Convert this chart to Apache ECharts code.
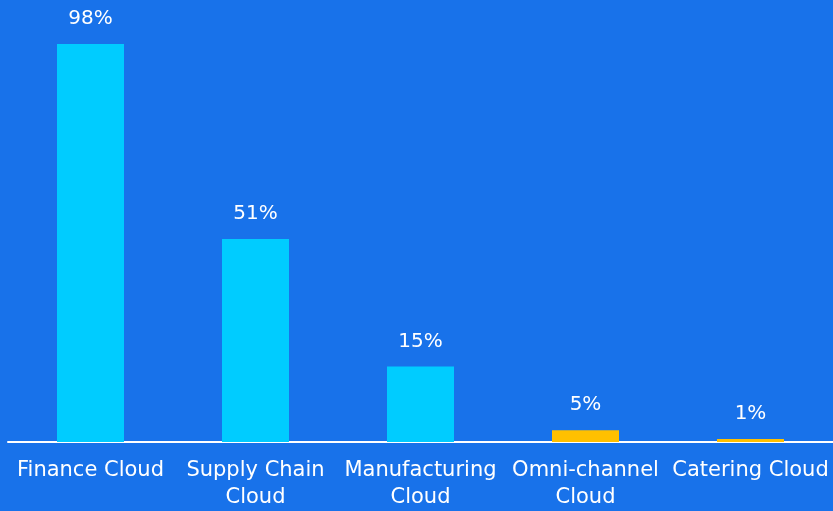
<!DOCTYPE html>
<html><head><meta charset="utf-8">
<script src="https://cdn.jsdelivr.net/npm/echarts@6/dist/echarts.min.js"></script>
<style>html,body{margin:0;padding:0;background:#1872EA;}#c{width:833px;height:511px;}</style>
</head><body><div id="c"></div>
<script>
const categories = ['Finance Cloud', 'Supply Chain\nCloud', 'Manufacturing\nCloud', 'Omni-channel\nCloud', 'Catering Cloud'];
// bar heights (percent)
const values = [98, 50, 18.6, 2.9, 0.75];
// label texts printed above the bars
const labelTexts = ['98%', '51%', '15%', '5%', '1%'];
const barColors = ['#00CCFF', '#00CCFF', '#00CCFF', '#FFC000', '#FFC000'];

const chart = echarts.init(document.getElementById('c'));
chart.setOption({
  backgroundColor: '#1872EA',
  animation: false,
  grid: {left: 8, right: -3, top: 44, bottom: 66},
  xAxis: {
    type: 'category', data: categories,
    axisLine: {lineStyle: {color: '#ffffff', width: 2}},
    axisTick: {show: false},
    axisLabel: {color: '#ffffff', fontSize: 21, fontFamily: 'DejaVu Sans', lineHeight: 27, margin: 15, interval: 0}
  },
  yAxis: {type: 'value', min: 0, max: 98, show: false, splitLine: {show: false}},
  series: [{
    type: 'bar', barWidth: 67,
    data: values.map((v, i) => ({value: v, itemStyle: {color: barColors[i]}})),
    label: {
      show: true, position: 'top', distance: 15, color: '#ffffff', fontSize: 20, fontFamily: 'DejaVu Sans',
      formatter: p => labelTexts[p.dataIndex]
    }
  }]
});
</script></body></html>
